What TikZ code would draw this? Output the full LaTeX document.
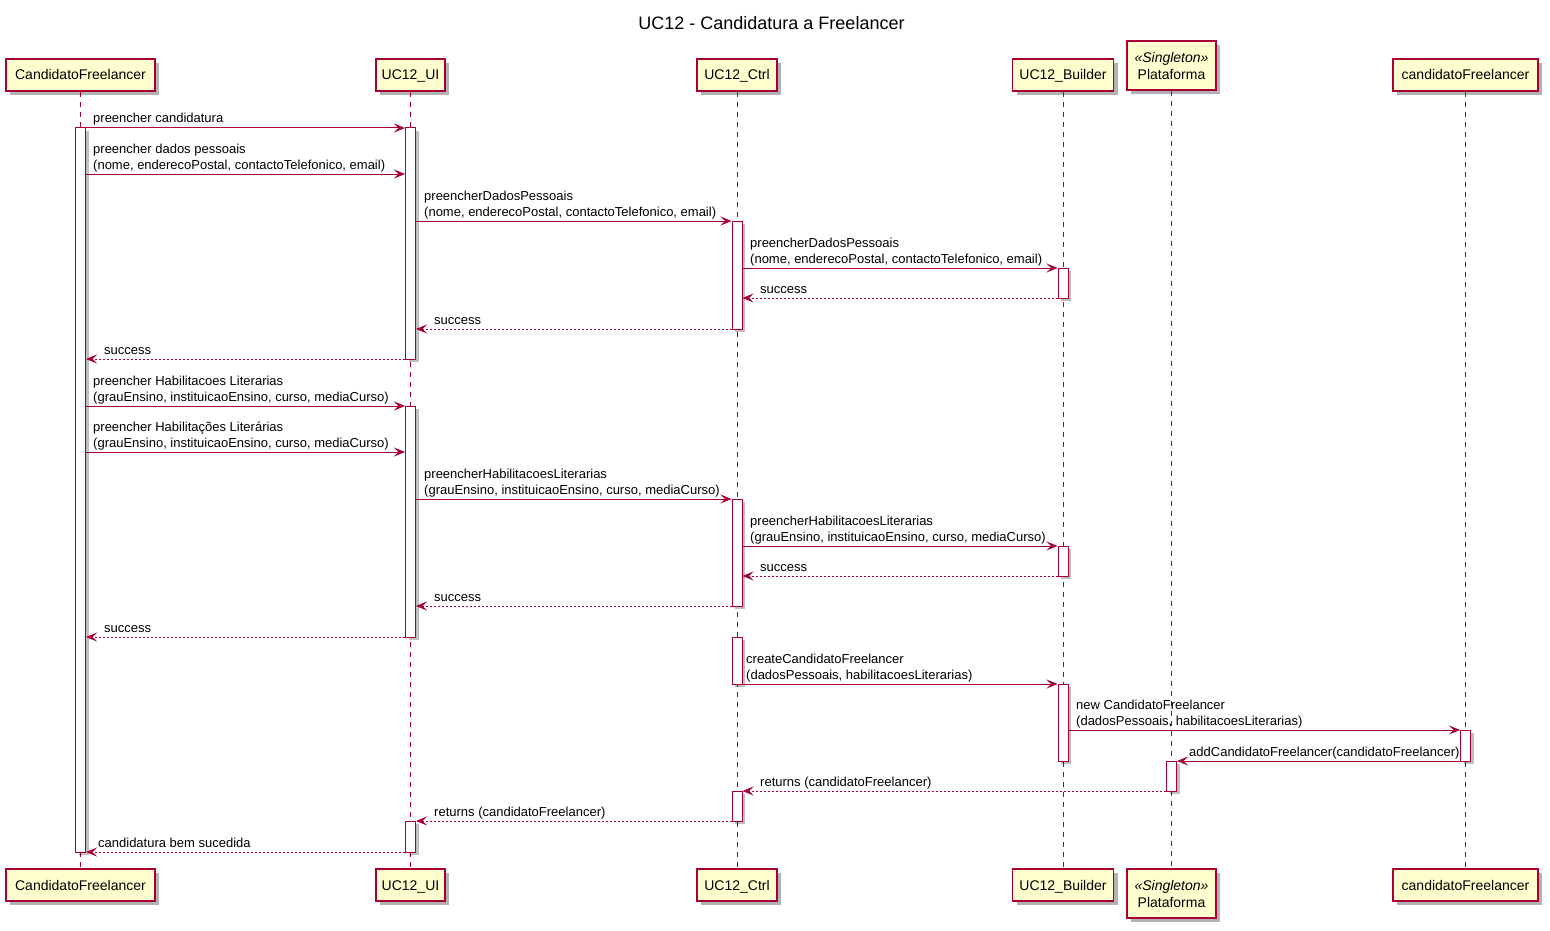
\documentclass[tikz,border=0pt]{standalone}
\usepackage{fontspec}
\setmainfont{Liberation Sans}
\usetikzlibrary{arrows.meta,shadows}

\definecolor{umlred}{HTML}{A80036}
\definecolor{umlfill}{HTML}{FEFECE}

% two-line message label, baseline on the last line
\newcommand{\twoline}[2]{\begin{tabular}[b]{@{}l@{}}#1\\#2\end{tabular}}

\tikzset{
  boxshadow/.style={drop shadow={shadow xshift=4pt,shadow yshift=-4pt,opacity=0.3,fill=black}},
  partbox/.style={draw=umlred,line width=1.5pt,fill=umlfill,inner sep=0pt,
    minimum height=32pt,text height=11pt,text depth=1pt,
    font=\fontsize{14pt}{17pt}\selectfont,boxshadow},
  singlebox/.style={draw=umlred,line width=1.5pt,fill=umlfill,inner sep=0pt,
    minimum height=49pt,align=center,
    font=\fontsize{14pt}{17pt}\selectfont,boxshadow},
  lifeline/.style={draw=umlred,line width=1pt,dash pattern=on 5pt off 5pt},
  actbar/.style={draw=umlred,line width=1pt,fill=white,minimum width=10pt,inner sep=0pt,
    drop shadow={shadow xshift=3pt,shadow yshift=-3pt,opacity=0.25,fill=black}},
  msg/.style={draw=umlred,line width=1pt,-{Stealth[length=11pt,width=9pt,inset=4.5pt]}},
  ret/.style={msg,dash pattern=on 2pt off 2pt},
  lbl/.style={anchor=base west,inner sep=0pt,font=\fontsize{13pt}{16pt}\selectfont},
}

\newcommand{\actnode}[4]{% name, x, top, bottom
  \node[actbar,minimum height={#4pt-#3pt}] (#1) at (#2,{(#3+#4)/2}) {};}

\begin{document}
\begin{tikzpicture}[x=1pt,y=-1pt]
\useasboundingbox (0,0) rectangle (1550,931);

% title
\node[anchor=base,inner sep=0pt,font=\fontsize{18pt}{22pt}\selectfont] (title) at (771.5,30) {UC12 - Candidatura a Freelancer};

% participants, top row
\node[partbox,minimum width=149pt] (pA) at (80.5,75) {CandidatoFreelancer};
\node[partbox,minimum width=69pt] (pB) at (410.5,75) {UC12\_UI};
\node[partbox,minimum width=80pt] (pC) at (737,75) {UC12\_Ctrl};
\node[partbox,minimum width=101pt] (pD) at (1063,75) {UC12\_Builder};
\node[singlebox,minimum width=89pt] (pE) at (1171.5,65.5) {\textit{«Singleton»}\\Plataforma};
\node[partbox,minimum width=145pt] (pF) at (1465.5,75) {candidatoFreelancer};

% participants, bottom row
\node[partbox,minimum width=149pt] (qA) at (80.5,885) {CandidatoFreelancer};
\node[partbox,minimum width=69pt] (qB) at (410.5,885) {UC12\_UI};
\node[partbox,minimum width=80pt] (qC) at (737,885) {UC12\_Ctrl};
\node[partbox,minimum width=101pt] (qD) at (1063,885) {UC12\_Builder};
\node[singlebox,minimum width=89pt] (qE) at (1171.5,893.5) {\textit{«Singleton»}\\Plataforma};
\node[partbox,minimum width=145pt] (qF) at (1465.5,885) {candidatoFreelancer};

% lifelines
\foreach \p in {A,B,C,D,E,F}
  \draw[lifeline] (p\p.south) -- (q\p.north);

% activation bars
\actnode{a1}{80.5}{128}{852}
\actnode{u1}{410.5}{128}{359}
\actnode{u2}{410.5}{406}{637}
\actnode{u3}{410.5}{821}{852}
\actnode{c1}{737}{221}{329}
\actnode{c2}{737}{499}{606}
\actnode{c3}{737}{637}{684}
\actnode{c4}{737}{791}{821}
\actnode{d1}{1063}{268}{298}
\actnode{d2}{1063}{546}{576}
\actnode{d3}{1063}{684}{761}
\actnode{e1}{1171.5}{761}{791}
\actnode{f1}{1465.5}{730}{761}

% personal data
\draw[msg] (a1.east |- 0,128) -- (u1.west |- 0,128);
\node[lbl] (t1) at (93,123) {preencher candidatura};
\draw[msg] (a1.east |- 0,174) -- (u1.west |- 0,174);
\node[lbl] (t2) at (93,169) {\twoline{preencher dados pessoais}{(nome, enderecoPostal, contactoTelefonico, email)}};
\draw[msg] (u1.east |- 0,221) -- (c1.west |- 0,221);
\node[lbl] (t3) at (424,216) {\twoline{preencherDadosPessoais}{(nome, enderecoPostal, contactoTelefonico, email)}};
\draw[msg] (c1.east |- 0,268) -- (d1.west |- 0,268);
\node[lbl] (t4) at (750,263) {\twoline{preencherDadosPessoais}{(nome, enderecoPostal, contactoTelefonico, email)}};
\draw[ret] (d1.west |- 0,298) -- (c1.east |- 0,298);
\node[lbl] (t5) at (760,293) {success};
\draw[ret] (c1.west |- 0,329) -- (u1.east |- 0,329);
\node[lbl] (t6) at (434,324) {success};
\draw[ret] (u1.west |- 0,359) -- (a1.east |- 0,359);
\node[lbl] (t7) at (104,354) {success};

% academic qualifications
\draw[msg] (a1.east |- 0,406) -- (u2.west |- 0,406);
\node[lbl] (t8) at (93,401) {\twoline{preencher Habilitacoes Literarias}{(grauEnsino, instituicaoEnsino, curso, mediaCurso)}};
\draw[msg] (a1.east |- 0,452) -- (u2.west |- 0,452);
\node[lbl] (t9) at (93,447) {\twoline{preencher Habilitações Literárias}{(grauEnsino, instituicaoEnsino, curso, mediaCurso)}};
\draw[msg] (u2.east |- 0,499) -- (c2.west |- 0,499);
\node[lbl] (t10) at (424,494) {\twoline{preencherHabilitacoesLiterarias}{(grauEnsino, instituicaoEnsino, curso, mediaCurso)}};
\draw[msg] (c2.east |- 0,546) -- (d2.west |- 0,546);
\node[lbl] (t11) at (750,541) {\twoline{preencherHabilitacoesLiterarias}{(grauEnsino, instituicaoEnsino, curso, mediaCurso)}};
\draw[ret] (d2.west |- 0,576) -- (c2.east |- 0,576);
\node[lbl] (t12) at (760,571) {success};
\draw[ret] (c2.west |- 0,606) -- (u2.east |- 0,606);
\node[lbl] (t13) at (434,601) {success};
\draw[ret] (u2.west |- 0,637) -- (a1.east |- 0,637);
\node[lbl] (t14) at (104,632) {success};

% creation and registration
\draw[msg] (c3.east |- 0,684) -- (d3.west |- 0,684);
\node[lbl] (t15) at (746,679) {\twoline{createCandidatoFreelancer}{(dadosPessoais, habilitacoesLiterarias)}};
\draw[msg] (d3.east |- 0,730) -- (f1.west |- 0,730);
\node[lbl] (t16) at (1076,725) {\twoline{new CandidatoFreelancer}{(dadosPessoais, habilitacoesLiterarias)}};
\draw[msg] (f1.west |- 0,761) -- (e1.east |- 0,761);
\node[lbl] (t17) at (1189,756) {addCandidatoFreelancer(candidatoFreelancer)};
\draw[ret] (e1.west |- 0,791) -- (c4.east |- 0,791);
\node[lbl] (t18) at (760,786) {returns (candidatoFreelancer)};
\draw[ret] (c4.west |- 0,821) -- (u3.east |- 0,821);
\node[lbl] (t19) at (434,816) {returns (candidatoFreelancer)};
\draw[ret] (u3.west |- 0,852) -- (a1.east |- 0,852);
\node[lbl] (t20) at (98,847) {candidatura bem sucedida};
\end{tikzpicture}
\end{document}
